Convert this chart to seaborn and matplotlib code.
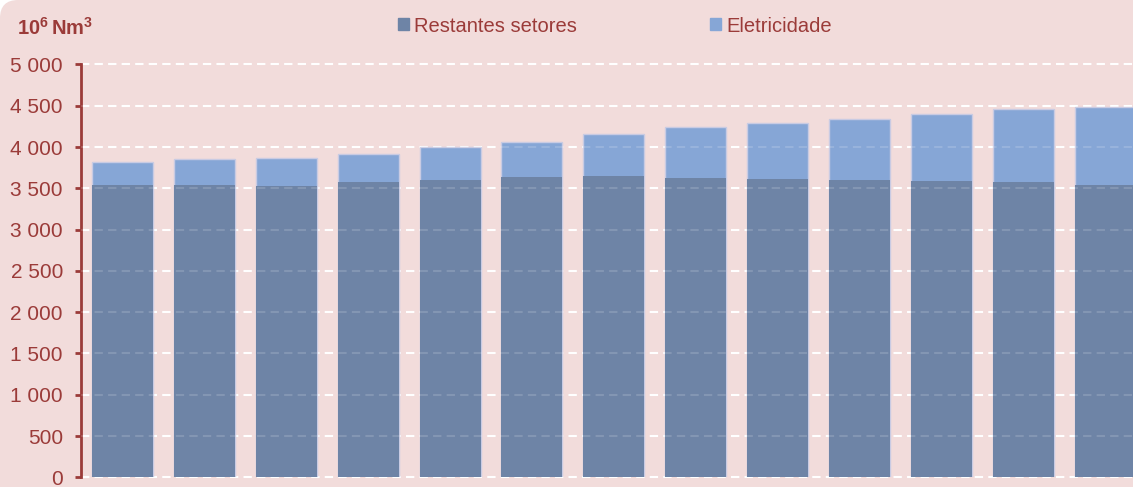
import numpy as np
import matplotlib
matplotlib.use('Agg')
import matplotlib.pyplot as plt
import matplotlib.patches as mpatches
import pandas as pd
import seaborn as sns

anos = [str(a) for a in range(2019, 2032)]
restantes = [3539, 3539, 3527, 3575, 3599, 3632, 3648, 3623, 3611, 3599, 3591, 3579, 3542]
total = [3813, 3857, 3866, 3914, 3999, 4056, 4160, 4237, 4293, 4334, 4402, 4462, 4487]
eletricidade = [t - r for t, r in zip(total, restantes)]
yticks = [0, 500, 1000, 1500, 2000, 2500, 3000, 3500, 4000, 4500, 5000]
ylabels = ['0', '500', '1 000', '1 500', '2 000', '2 500', '3 000', '3 500', '4 000', '4 500', '5 000']

df = pd.DataFrame({'ano': anos, 'restantes': restantes, 'total': total})

bg = '#F2DCDB'
vermelho = '#9B3B39'
cor_rest = '#6E84A6'
cor_elet = '#86A6D6'

sns.set_style('white')
plt.rcParams['font.family'] = ['Liberation Sans', 'DejaVu Sans']
plt.rcParams['mathtext.fontset'] = 'custom'
plt.rcParams['mathtext.rm'] = 'Liberation Sans'
plt.rcParams['mathtext.bf'] = 'Liberation Sans:bold'

fig = plt.figure(figsize=(11.33, 4.87), dpi=100)
fig.patch.set_facecolor('white')
fundo = mpatches.FancyBboxPatch((0, -0.2), 1.2, 1.2,
                                boxstyle='round,pad=0,rounding_size=0.016',
                                mutation_aspect=1133 / 487,
                                transform=fig.transFigure, facecolor=bg,
                                edgecolor='none', zorder=-10)
fig.patches.append(fundo)

ax = fig.add_axes([81 / 1133, 9.7 / 487, 1 - 81 / 1133, (477.3 - 64.5) / 487])
ax.set_facecolor('none')

# grelha por baixo das barras
ax.set_axisbelow(True)
ax.yaxis.grid(True, color='white', linestyle=(0, (4, 2.5)), linewidth=1.5)

sns.barplot(data=df, x='ano', y='total', color=cor_elet, saturation=1, width=0.745,
            edgecolor='#C9CBE3', linewidth=1, ax=ax)
sns.barplot(data=df, x='ano', y='restantes', color=cor_rest, saturation=1, width=0.745,
            edgecolor='none', linewidth=0, ax=ax)

# tracejado ténue visível através das barras
for yv in yticks[1:]:
    ax.axhline(yv, color='white', linestyle=(0, (4, 2.5)), linewidth=1.5, alpha=0.15, zorder=5)

ax.set_ylim(0, 5000)
ax.set_xlim(-0.507, 12.34)
ax.set_yticks(yticks)
ax.set_yticklabels(ylabels)
ax.set_xticks([])
ax.set_xlabel('')
ax.set_ylabel('')
for gl in ax.get_ygridlines():
    gl.set_clip_on(False)
for s in ['top', 'right', 'bottom']:
    ax.spines[s].set_visible(False)
ax.spines['left'].set_color(vermelho)
ax.spines['left'].set_linewidth(2)
ax.tick_params(axis='y', colors=vermelho, labelsize=15, length=4, width=2,
               direction='out', left=True, pad=9)
for lab in ax.get_yticklabels():
    lab.set_color(vermelho)

fig.text(17 / 1133, 1 - 28 / 487, r'$\mathbf{10^6\,Nm^3}$', color=vermelho,
         fontsize=14.5, va='center', ha='left')

handles = [mpatches.Patch(color=cor_rest, label='Restantes setores'),
           mpatches.Patch(color=cor_elet, label='Eletricidade')]
leg = fig.legend(handles=handles, loc='center left', ncol=2, frameon=False,
                 bbox_to_anchor=(398 / 1133, 1 - 26 / 487), fontsize=14.5,
                 handlelength=0.55, handleheight=0.55, handletextpad=0.25,
                 columnspacing=6.6, borderpad=0, borderaxespad=0)
for t in leg.get_texts():
    t.set_color(vermelho)

fig.savefig('out.png', dpi=100, facecolor=fig.get_facecolor())
